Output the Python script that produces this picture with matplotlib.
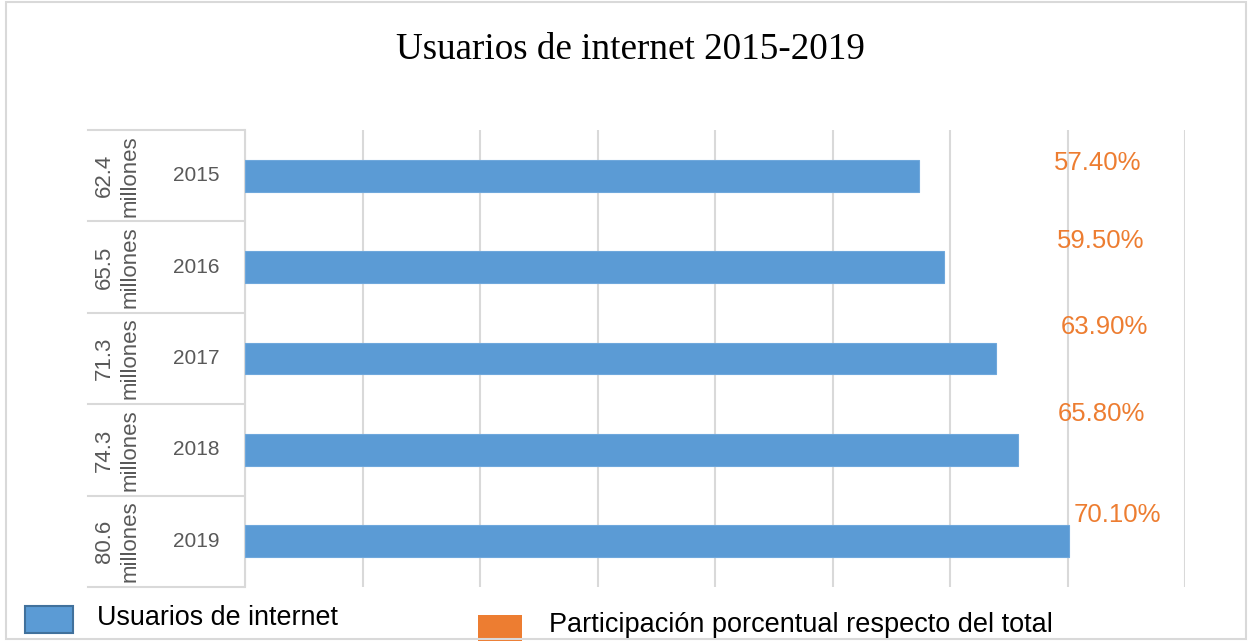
import matplotlib
matplotlib.use("Agg")
import matplotlib.pyplot as plt
from matplotlib.transforms import blended_transform_factory
from matplotlib.patches import Rectangle
from matplotlib.lines import Line2D

# ---- data ----
years = ["2015", "2016", "2017", "2018", "2019"]
usuarios = ["62.4\nmillones", "65.5\nmillones", "71.3\nmillones", "74.3\nmillones", "80.6\nmillones"]
participacion = [57.4, 59.5, 63.9, 65.8, 70.1]
pct_labels = ["57.40%", "59.50%", "63.90%", "65.80%", "70.10%"]
x_ticks = [0, 10, 20, 30, 40, 50, 60, 70, 80]

# ---- layout / style ----
W, H = 1250, 641
BLUE = "#5B9BD5"
ORANGE = "#ED7D31"
GRID = "#D9D9D9"
TXT = "#595959"
# label placement (pixels) — layout only
label_px = [(1098, 163), (1101, 241), (1104, 327), (1101, 414), (1117, 515)]

fig = plt.figure(figsize=(W / 100, H / 100), dpi=100)
fig.patch.set_facecolor("white")

def fx(px):
    return px / W

def fy(py):
    return 1 - py / H

ax = fig.add_axes([fx(245), fy(587), fx(1185) - fx(245), fy(130) - fy(587)])
ypos = list(range(len(years)))
ax.barh(ypos, participacion, height=0.35, color=BLUE, edgecolor="#6FA8DC", linewidth=0.8, zorder=3)
ax.set_xlim(x_ticks[0], x_ticks[-1])
ax.set_ylim(len(years) - 0.5, -0.5)
ax.set_xticks(x_ticks)
ax.set_yticks([])
ax.tick_params(axis="x", length=0, labelbottom=False)
ax.grid(axis="x", color=GRID, linewidth=1.5, zorder=0)
for s in ["top", "right", "bottom"]:
    ax.spines[s].set_visible(False)
ax.spines["left"].set_color(GRID)
ax.spines["left"].set_linewidth(1.5)

# category labels (multi-level)
tr = blended_transform_factory(fig.transFigure, ax.transData)
for i, (yr, us) in enumerate(zip(years, usuarios)):
    fig.text(fx(220), i, yr, transform=tr, ha="right", va="center",
             fontsize=15, color=TXT, family="Liberation Sans")
    fig.text(fx(117), i, us, transform=tr, ha="center", va="center", rotation=90,
             multialignment="center", fontsize=16, color=TXT, family="Liberation Sans",
             linespacing=1.3)
for b in range(len(years) + 1):
    fig.add_artist(Line2D([fx(88), fx(244)], [b - 0.5, b - 0.5], transform=tr,
                          color=GRID, linewidth=1.5))

# percentage labels (orange series)
for (px, py), lab in zip(label_px, pct_labels):
    fig.text(fx(px), fy(py), lab, ha="center", va="center", fontsize=18.5,
             color=ORANGE, family="Liberation Sans")

# title
fig.text(fx(630), fy(50), "Usuarios de internet 2015-2019", ha="center", va="center",
         fontsize=26.7, family="Liberation Serif", color="black")

# legend
fig.add_artist(Rectangle((fx(25), fy(633)), fx(48), 27 / H, transform=fig.transFigure,
                         facecolor=BLUE, edgecolor="#41719C", linewidth=1.5))
fig.text(fx(97), fy(618), "Usuarios de internet", ha="left", va="center",
         fontsize=19.4, family="Liberation Sans", color="black")
fig.add_artist(Rectangle((fx(478), fy(641)), fx(44), 26 / H, transform=fig.transFigure,
                         facecolor=ORANGE, edgecolor="none"))
fig.text(fx(549), fy(625), "Participación porcentual respecto del total", ha="left",
         va="center", fontsize=19.5, family="Liberation Sans", color="black")

# outer frame
fig.add_artist(Rectangle((fx(6), fy(639)), fx(1240), 637 / H, transform=fig.transFigure,
                         facecolor="none", edgecolor=GRID, linewidth=1.5))

fig.savefig("out.png", dpi=100)
